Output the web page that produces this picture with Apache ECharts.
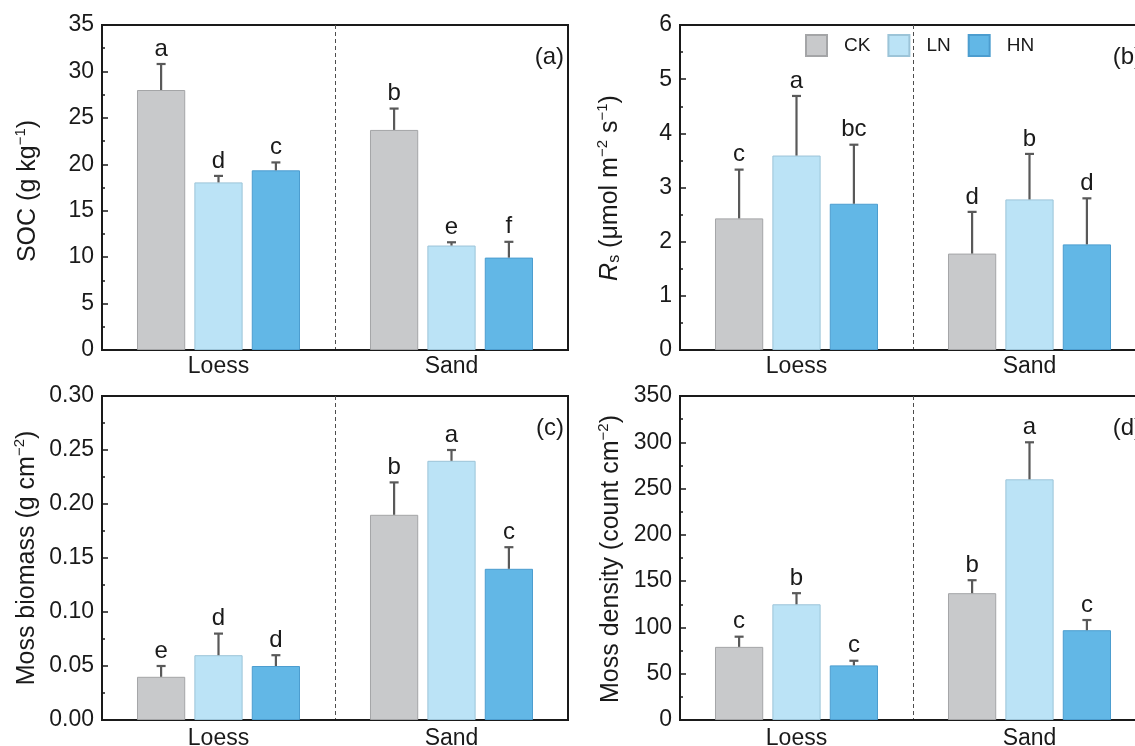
<!DOCTYPE html>
<html><head><meta charset="utf-8">
<script src="https://cdn.jsdelivr.net/npm/echarts@6/dist/echarts.min.js"></script>
<style>html,body{margin:0;padding:0;background:#fff}#c{width:1135px;height:746px}</style>
</head><body><div id="c"></div>
<script>
// ---- data ----
const categories = ['Loess', 'Sand'];
const treatments = ['CK', 'LN', 'HN'];
// rows = treatments (CK, LN, HN), columns = categories (Loess, Sand)
const socMeans = [[28.0, 23.7], [18.05, 11.25], [19.35, 9.95]];
const socErrs = [[2.8, 2.3], [0.7, 0.35], [0.85, 1.7]];
const socLetters = [['a', 'b'], ['d', 'e'], ['c', 'f']];
const rsMeans = [[2.43, 1.78], [3.59, 2.78], [2.70, 1.95]];
const rsErrs = [[0.90, 0.77], [1.10, 0.84], [1.09, 0.85]];
const rsLetters = [['c', 'd'], ['a', 'b'], ['bc', 'd']];
const bioMeans = [[0.04, 0.19], [0.06, 0.24], [0.05, 0.14]];
const bioErrs = [[0.01, 0.03], [0.02, 0.01], [0.01, 0.02]];
const bioLetters = [['e', 'b'], ['d', 'a'], ['d', 'c']];
const denMeans = [[79, 137], [125, 260], [59, 97]];
const denErrs = [[11, 14], [12, 40], [5, 11]];
const denLetters = [['c', 'b'], ['b', 'a'], ['c', 'c']];
const yMax = [35, 6, 0.30, 350];
const yStep = [5, 1, 0.05, 50];
const yDecimals = [0, 0, 2, 0];
const panelTags = ['(a)', '(b)', '(c)', '(d)'];

// ---- styles ----
const FF = 'Liberation Sans, Arial, Helvetica, sans-serif';
const INK = '#1a1a1a';
const fills = ['#c8c9cb', '#bbe3f6', '#62b7e6'];
const borders = ['#a4a5a7', '#9cc4d8', '#4c9dcf'];
const errColor = '#595959';
const BAR_W = 0.207, BAR_GAP = 0.19;

const panels = [
  {means: socMeans, errs: socErrs, letters: socLetters},
  {means: rsMeans, errs: rsErrs, letters: rsLetters},
  {means: bioMeans, errs: bioErrs, letters: bioLetters},
  {means: denMeans, errs: denErrs, letters: denLetters}
];
const gridBoxes = [
  {left: 102, top: 25, width: 466, height: 325},
  {left: 680, top: 25, width: 466, height: 325},
  {left: 102, top: 396, width: 466, height: 324},
  {left: 680, top: 396, width: 466, height: 324}
];

const grid = gridBoxes.map(b => Object.assign({
  show: true, borderColor: INK, borderWidth: 2, backgroundColor: 'transparent',
  containLabel: false, outerBoundsMode: 'none'
}, b));

const xAxis = gridBoxes.map((b, i) => ({
  type: 'category', gridIndex: i, data: categories, boundaryGap: true,
  axisLine: {show: true, lineStyle: {color: INK, width: 2}},
  axisTick: {show: true, inside: true, alignWithLabel: true, length: 6, lineStyle: {color: INK, width: 2}},
  axisLabel: {color: INK, fontSize: 23, fontFamily: FF, margin: i < 2 ? 5 : 7},
  splitLine: {show: true, showMinLine: false, showMaxLine: false,
    lineStyle: {type: [4, 3], color: '#4d4d4d', width: 1}}
}));

const yAxis = gridBoxes.map((b, i) => ({
  type: 'value', gridIndex: i, min: 0, max: yMax[i], interval: yStep[i],
  axisLine: {show: true, lineStyle: {color: INK, width: 2}},
  axisTick: {show: true, inside: true, length: 6, lineStyle: {color: INK, width: 1.5}},
  minorTick: {show: true, splitNumber: 2, length: 3, lineStyle: {color: INK, width: 1.5}},
  axisLabel: {color: INK, fontSize: 23, fontFamily: FF, margin: 8,
    formatter: v => v.toFixed(yDecimals[i])},
  splitLine: {show: false}
}));

const series = [];
panels.forEach((p, pi) => {
  treatments.forEach((t, k) => {
    series.push({
      type: 'bar', name: t, xAxisIndex: pi, yAxisIndex: pi,
      data: p.means[k], barWidth: (BAR_W * 100) + '%', barGap: (BAR_GAP * 100) + '%',
      itemStyle: {color: fills[k], borderColor: borders[k], borderWidth: 1},
      z: 2
    });
  });
  treatments.forEach((t, k) => {
    const letters = p.letters[k];
    series.push({
      type: 'custom', name: t + ' err', xAxisIndex: pi, yAxisIndex: pi, z: 4,
      data: categories.map((c, ci) => [ci, p.means[k][ci], p.errs[k][ci]]),
      encode: {x: 0, y: 1},
      renderItem: (params, api) => {
        const ci = api.value(0), m = api.value(1), e = api.value(2);
        const base = api.coord([ci, m]);
        const top = api.coord([ci, m + e]);
        const band = api.size([1, 0])[0];
        const w = band * BAR_W, g = w * BAR_GAP;
        const x = base[0] + (k - 1) * (w + g);
        return {type: 'group', children: [
          {type: 'line', shape: {x1: x, y1: base[1], x2: x, y2: top[1]},
            style: {stroke: errColor, lineWidth: 2.2}},
          {type: 'line', shape: {x1: x - 4.5, y1: top[1], x2: x + 4.5, y2: top[1]},
            style: {stroke: errColor, lineWidth: 2.2}},
          {type: 'text', x: x, y: top[1] - 3,
            style: {text: letters[params.dataIndex], fontSize: 24, fontFamily: FF,
              fill: INK, align: 'center', verticalAlign: 'bottom'}}
        ]};
      }
    });
  });
});

const supS = {fontSize: 15, fontFamily: FF, fill: INK, padding: [0, 0, 14, 0]};
const subS = {fontSize: 16, fontFamily: FF, fill: INK, padding: [10, 0, 0, 0]};
const itS = {fontSize: 25, fontFamily: FF, fontStyle: 'italic', fill: INK};
const yNames = [
  {text: 'SOC (g kg{sup|\u22121})', x: 28, y: 191},
  {text: '{it|R}{sub|s} (\u03bcmol m{sup|\u22122} s{sup|\u22121})', x: 610, y: 188},
  {text: 'Moss biomass (g cm{sup|\u22122})', x: 27, y: 558},
  {text: 'Moss density (count cm{sup|\u22122})', x: 611, y: 559}
];
const graphic = [];
yNames.forEach(n => {
  graphic.push({type: 'text', x: n.x, y: n.y, rotation: Math.PI / 2,
    style: {text: n.text, fontSize: 25, fontFamily: FF, fill: INK,
      align: 'center', verticalAlign: 'middle', rich: {sup: supS, sub: subS, it: itS}}});
});
gridBoxes.forEach((b, i) => {
  graphic.push({type: 'text', x: b.left + b.width - 4, y: b.top + 32,
    style: {text: panelTags[i], fontSize: 24, fontFamily: FF, fill: INK,
      align: 'right', verticalAlign: 'middle'}});
});

const chart = echarts.init(document.getElementById('c'), null, {renderer: 'canvas'});
chart.setOption({
  animation: false,
  backgroundColor: '#fff',
  textStyle: {fontFamily: FF, color: INK},
  grid, xAxis, yAxis, series, graphic,
  legend: {
    data: treatments, left: 805, top: 34, padding: 0, orient: 'horizontal',
    itemWidth: 21, itemHeight: 21, itemGap: 17, icon: 'rect', selectedMode: false,
    textStyle: {fontSize: 19, fontFamily: FF, color: INK, padding: [0, 0, 0, 12]}
  }
});
</script>
</body></html>
